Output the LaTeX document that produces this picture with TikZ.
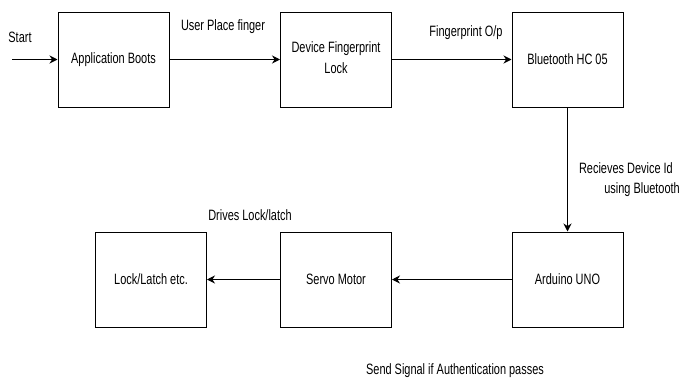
\documentclass[tikz,border=0pt]{standalone}
\usepackage{fontspec}
\setmainfont{Liberation Sans}
\usepackage{graphicx}
\usetikzlibrary{arrows.meta}
\newcommand{\sq}[1]{\scalebox{0.73}[1]{#1}}
\begin{document}
\begin{tikzpicture}[x=1pt,y=-1pt,
  blk/.style={draw=black,line width=1pt,minimum width=111pt,minimum height=95pt,inner sep=0pt,
    font=\fontsize{15}{18}\selectfont},
  lbl/.style={inner sep=0pt,font=\fontsize{15}{18}\selectfont},
  conn/.style={draw=black,line width=1pt,-{Stealth[length=8pt,width=8pt]}}]
\useasboundingbox[fill=white] (0,0) rectangle (681,383);
\node[blk] (A) at (113.5,59.5) {\sq{Application Boots}};
\node[blk] (D) at (336,59.5) {\sq{\begin{tabular}{@{}c@{}}Device Fingerprint\\[3pt]Lock\end{tabular}}};
\node[blk] (B) at (567.5,59.5) {\sq{Bluetooth HC 05}};
\node[blk] (U) at (567.5,279.5) {\sq{Arduino UNO}};
\node[blk] (S) at (336,279.5) {\sq{Servo Motor}};
\node[blk] (L) at (151,279.5) {\sq{Lock/Latch etc.}};
\coordinate (st) at (12,59.5);
\node[lbl] (tStart) at (20,37) {\sq{Start}};
\node[lbl] (tUser) at (223,27) {\sq{User Place finger}};
\node[lbl] (tFp) at (466,33) {\sq{Fingerprint O/p}};
\node[lbl,anchor=east] (tRec1) at (673,168) {\sq{Recieves Device Id}};
\node[lbl,anchor=east] (tRec2) at (680,190) {\sq{using Bluetooth}};
\node[lbl] (tDrv) at (250,215) {\sq{Drives Lock/latch}};
\node[lbl] (tSend) at (455,371) {\sq{Send Signal if Authentication passes}};
\draw[conn] (st) -- (A.west);
\draw[conn] (A.east) -- (D.west);
\draw[conn] (D.east) -- (B.west);
\draw[conn] (B.south) -- (U.north);
\draw[conn] (U.west) -- (S.east);
\draw[conn] (S.west) -- (L.east);
\end{tikzpicture}
\end{document}
